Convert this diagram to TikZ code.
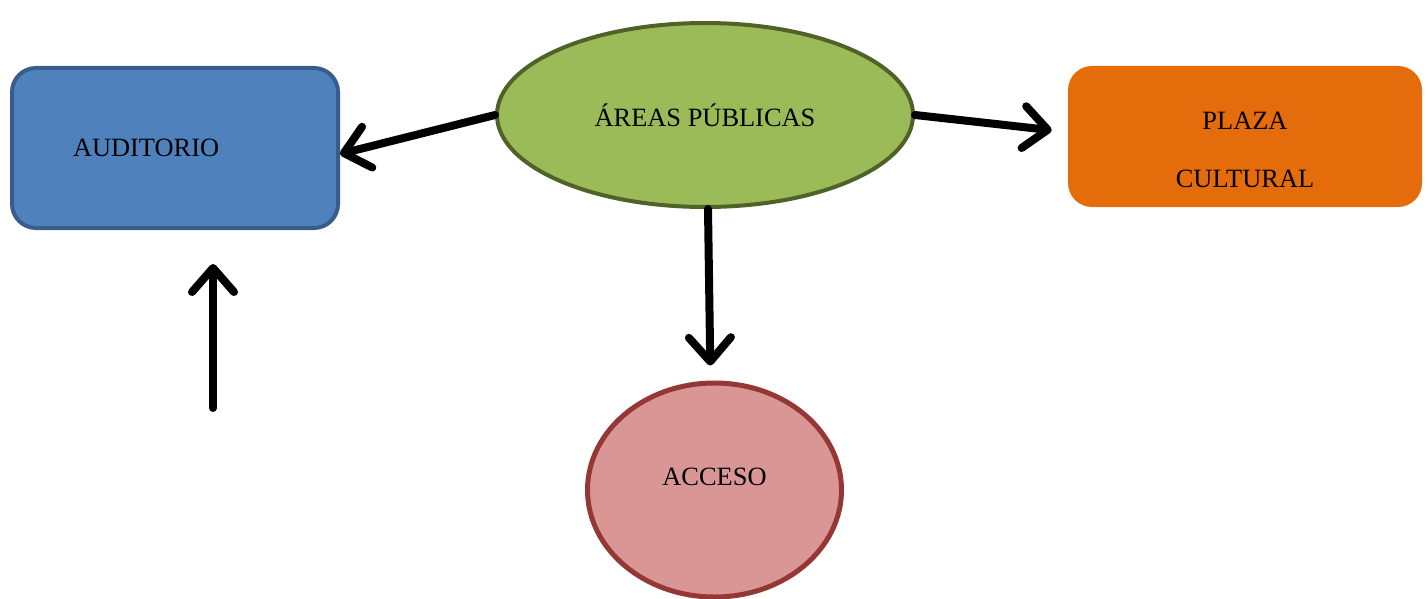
\documentclass[tikz,border=0pt]{standalone}
\usepackage{fontspec}
\setmainfont{Liberation Serif}
\usetikzlibrary{shapes.geometric,arrows.meta}
\definecolor{AudFill}{HTML}{4F81BD}
\definecolor{AudDraw}{HTML}{385D8A}
\definecolor{AreaFill}{HTML}{9BBB59}
\definecolor{AreaDraw}{HTML}{4F6228}
\definecolor{PlazaFill}{HTML}{E46C0A}
\definecolor{AccFill}{HTML}{D99694}
\definecolor{AccDraw}{HTML}{953735}
\tikzset{
Auditorio/.style={draw=AudDraw, fill=AudFill, rectangle, rounded corners=12pt,
        line width=2pt, minimum width=163pt, minimum height=80pt, text width=102pt,
        align=left, inner xsep=0pt},
Areas/.style={draw=AreaDraw, fill=AreaFill, ellipse, inner sep=0pt,
        minimum width=208pt, minimum height=92pt, line width=2pt},
Plaza/.style={fill=PlazaFill, rectangle, rounded corners=12pt, inner sep=0pt,
        minimum width=177pt, minimum height=70.5pt, align=center},
Acceso/.style={draw=AccDraw, fill=AccFill, ellipse, inner sep=0pt,
        minimum width=127pt, minimum height=107pt, line width=2.5pt, text depth=13pt},
BlockArrow/.style={arrows={-Straight Barb[length=12pt, width=21pt, line cap=round, round]},
        draw=black, line width=4pt, line cap=round},
}

\begin{document}
\begin{tikzpicture}[x=0.5pt, y=-0.5pt, font=\fontsize{13.2}{16}\selectfont]
	\useasboundingbox (0,0) rectangle (1428,599);

	\node[Auditorio] (Auditorio) at (175,148) {AUDITORIO};
	\node[Areas] (Areas) at (705,115) {ÁREAS PÚBLICAS};
	\node[Plaza] (Plaza) at (1245,136.5) {\rule{0pt}{22pt}PLAZA\\[13pt]CULTURAL};
	\node[Acceso] (Acceso) at (714.5,490) {ACCESO};
	\coordinate (AudIn) at (213,408);

	\draw[BlockArrow] (Areas.west) -- ([yshift=-3pt]Auditorio.east);
	\draw[BlockArrow, shorten >=8pt] (Areas.east) -- ([yshift=2.25pt]Plaza.west);
	\draw[BlockArrow, shorten >=7.5pt] ([xshift=1.5pt]Areas.south) -- ([xshift=-2pt]Acceso.north);
	\draw[BlockArrow, shorten >=17pt] (AudIn) -- (AudIn |- Auditorio.south);
\end{tikzpicture}
\end{document}
